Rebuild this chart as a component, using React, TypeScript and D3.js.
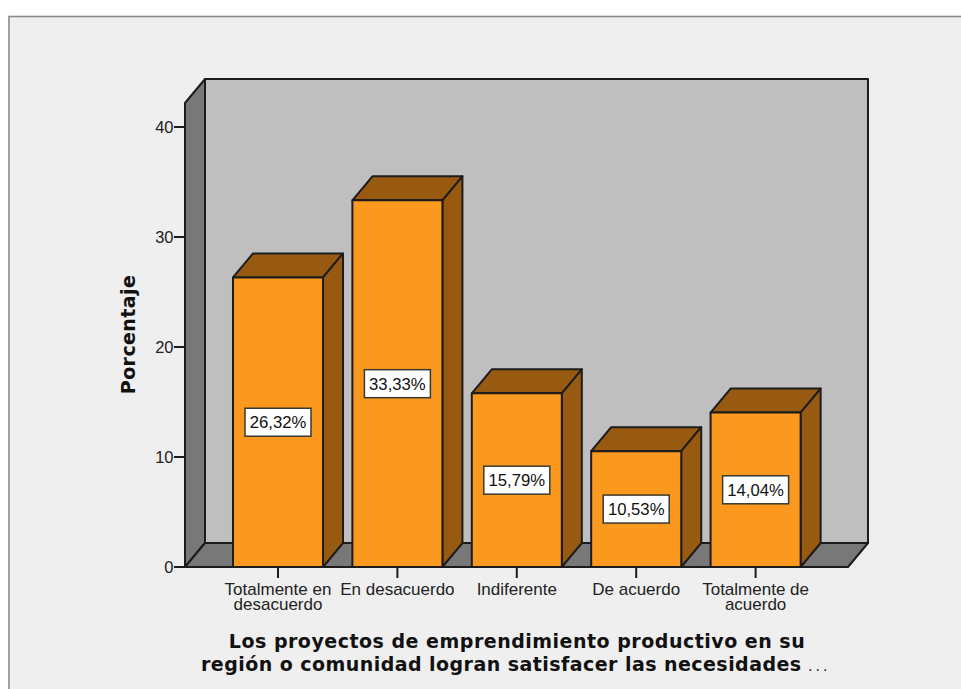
import React, { useEffect, useRef } from 'react';
import * as d3 from 'd3';

const categories = [
  ['Totalmente en', 'desacuerdo'],
  ['En desacuerdo'],
  ['Indiferente'],
  ['De acuerdo'],
  ['Totalmente de', 'acuerdo'],
];
const percentages = [26.32, 33.33, 15.79, 10.53, 14.04];
const yTicks = [0, 10, 20, 30, 40];
const yTitle = 'Porcentaje';
const xTitle = [
  'Los proyectos de emprendimiento productivo en su',
  'región o comunidad logran satisfacer las necesidades',
];

const WIDTH = 961;
const HEIGHT = 689;
const DEPTH_X = 20;
const DEPTH_Y = 24;
const INK = '#1c1c1c';

const App: React.FC = () => {
  const svgRef = useRef<SVGSVGElement | null>(null);

  useEffect(() => {
    if (!svgRef.current) {
      return;
    }
    const svg = d3.select(svgRef.current);
    svg.selectAll('*').remove();

    const left = 185;
    const right = 848;
    const top = 103;
    const yScale = d3.scaleLinear().domain([0, 40]).range([567, 127]);
    const y0 = yScale(0);
    const xScale = d3
      .scaleBand<number>()
      .domain(d3.range(categories.length))
      .range([218.3, 815.3])
      .paddingInner(0.246)
      .paddingOuter(0.123);

    const poly = (pts: [number, number][], fill: string, width = 2) =>
      svg
        .append('polygon')
        .attr('points', pts.map(p => p.join(',')).join(' '))
        .attr('fill', fill)
        .attr('stroke', INK)
        .attr('stroke-width', width)
        .attr('stroke-linejoin', 'round');

    // outer panel
    svg
      .append('rect')
      .attr('x', 9)
      .attr('y', 16.5)
      .attr('width', WIDTH + 20)
      .attr('height', HEIGHT)
      .attr('fill', '#efefef')
      .attr('stroke', '#8a8a8a')
      .attr('stroke-width', 1.6);

    // back wall, side wall, floor
    poly(
      [
        [left + DEPTH_X, top - DEPTH_Y],
        [right + DEPTH_X, top - DEPTH_Y],
        [right + DEPTH_X, y0 - DEPTH_Y],
        [left + DEPTH_X, y0 - DEPTH_Y],
      ],
      '#bfbfbf',
    );
    poly(
      [
        [left, top],
        [left + DEPTH_X, top - DEPTH_Y],
        [left + DEPTH_X, y0 - DEPTH_Y],
        [left, y0],
      ],
      '#787878',
    );
    poly(
      [
        [left, y0],
        [left + DEPTH_X, y0 - DEPTH_Y],
        [right + DEPTH_X, y0 - DEPTH_Y],
        [right, y0],
      ],
      '#787878',
    );

    // y axis
    const yAxis = svg.append('g');
    yTicks.forEach(t => {
      yAxis
        .append('line')
        .attr('x1', left - 11)
        .attr('x2', left)
        .attr('y1', yScale(t))
        .attr('y2', yScale(t))
        .attr('stroke', INK)
        .attr('stroke-width', 2);
      yAxis
        .append('text')
        .attr('x', left - 11.5)
        .attr('y', yScale(t) + 6)
        .attr('text-anchor', 'end')
        .attr('font-family', 'Liberation Sans')
        .attr('font-size', 16.5)
        .attr('fill', '#222')
        .text(t);
    });

    // bars
    percentages.forEach((value, i) => {
      const x0 = xScale(i) ?? 0;
      const x1 = x0 + xScale.bandwidth();
      const yTop = yScale(value);
      poly(
        [
          [x0, yTop],
          [x0 + DEPTH_X, yTop - DEPTH_Y],
          [x1 + DEPTH_X, yTop - DEPTH_Y],
          [x1, yTop],
        ],
        '#975a10',
      );
      poly(
        [
          [x1, yTop],
          [x1 + DEPTH_X, yTop - DEPTH_Y],
          [x1 + DEPTH_X, y0 - DEPTH_Y],
          [x1, y0],
        ],
        '#975a10',
      );
      poly(
        [
          [x0, yTop],
          [x1, yTop],
          [x1, y0],
          [x0, y0],
        ],
        '#fb991f',
      );

      const cx = (x0 + x1) / 2;
      const cy = (yTop + y0) / 2;
      svg
        .append('rect')
        .attr('x', cx - 33)
        .attr('y', cy - 14)
        .attr('width', 66)
        .attr('height', 28)
        .attr('fill', '#ffffff')
        .attr('stroke', '#3a3a2c')
        .attr('stroke-width', 1.5);
      svg
        .append('text')
        .attr('x', cx)
        .attr('y', cy + 6)
        .attr('text-anchor', 'middle')
        .attr('font-family', 'Liberation Sans')
        .attr('font-size', 16.7)
        .attr('fill', '#111')
        .text(`${value.toFixed(2).replace('.', ',')}%`);

      // x tick and wrapped label
      svg
        .append('line')
        .attr('x1', cx)
        .attr('x2', cx)
        .attr('y1', y0)
        .attr('y2', y0 + 11)
        .attr('stroke', INK)
        .attr('stroke-width', 2);
      categories[i].forEach((line, k) => {
        svg
          .append('text')
          .attr('x', cx)
          .attr('y', 595 + k * 15)
          .attr('text-anchor', 'middle')
          .attr('font-family', 'Liberation Sans')
          .attr('font-size', 17)
          .attr('fill', '#222')
          .text(line);
      });
    });

    // axis titles
    svg
      .append('text')
      .attr('transform', 'translate(134.5,334.5) rotate(-90)')
      .attr('text-anchor', 'middle')
      .attr('font-family', 'DejaVu Sans')
      .attr('font-weight', 700)
      .attr('font-size', 19)
      .attr('letter-spacing', 0.4)
      .attr('fill', '#111')
      .text(yTitle);

    svg
      .append('text')
      .attr('x', 517)
      .attr('y', 648)
      .attr('text-anchor', 'middle')
      .attr('font-family', 'DejaVu Sans')
      .attr('font-weight', 700)
      .attr('font-size', 19)
      .attr('letter-spacing', 0.5)
      .attr('fill', '#111')
      .text(xTitle[0]);
    svg
      .append('text')
      .attr('x', 201)
      .attr('y', 671)
      .attr('font-family', 'DejaVu Sans')
      .attr('font-weight', 700)
      .attr('font-size', 19)
      .attr('letter-spacing', 0.45)
      .attr('fill', '#111')
      .text(xTitle[1]);
    svg
      .append('text')
      .attr('x', 808)
      .attr('y', 671)
      .attr('font-family', 'Liberation Sans')
      .attr('font-size', 16)
      .attr('letter-spacing', 3)
      .attr('fill', '#222')
      .text('...');
  }, []);

  return (
    <svg
      ref={svgRef}
      width={WIDTH}
      height={HEIGHT}
      viewBox={`0 0 ${WIDTH} ${HEIGHT}`}
      style={{ position: 'fixed', left: 0, top: 0, display: 'block' }}
    />
  );
};

export default App;
